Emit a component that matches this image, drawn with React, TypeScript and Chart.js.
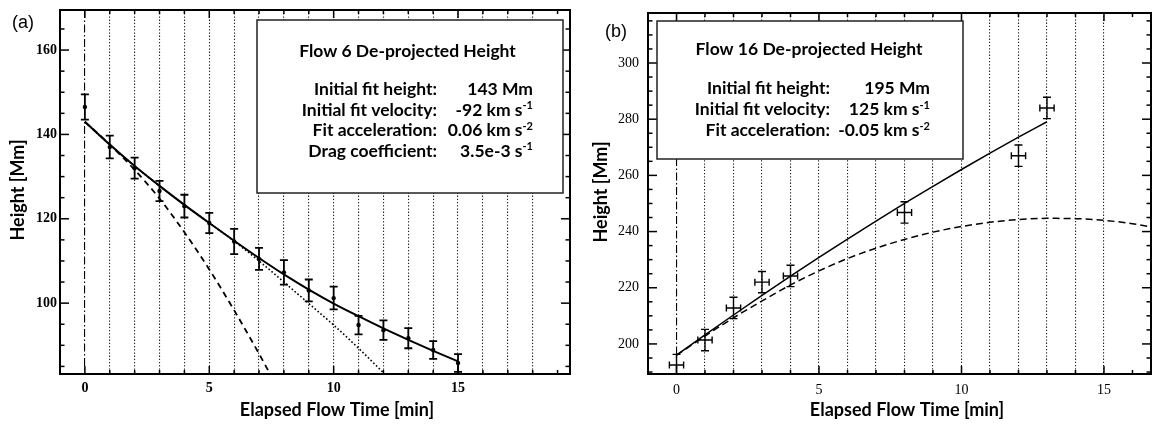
import React, { useEffect, useRef } from 'react';
import { Chart, registerables } from 'chart.js';

Chart.register(...registerables);

// ---------- Panel (a): Flow 6 ----------
const timeA = [0, 1, 2, 3, 4, 5, 6, 7, 8, 9, 10, 11, 12, 13, 14, 15];
const heightA = [146.5, 137.0, 132.0, 126.6, 123.0, 119.0, 114.6, 110.5, 107.3, 103.0, 101.2, 94.8, 93.6, 91.7, 88.9, 85.8];
const errA = [3.0, 2.7, 2.5, 2.4, 2.7, 2.4, 3.0, 2.6, 2.9, 2.6, 2.7, 2.2, 2.3, 2.4, 2.1, 2.1];

const solidTimeA = [0, 1, 2, 3, 4, 5, 6, 7, 8, 9, 10, 11, 12, 13, 14, 15];
const solidFitA = [143, 137.6, 132.5, 127.8, 123.3, 119.0, 114.8, 110.7, 106.8, 103.2, 99.9, 96.9, 94.0, 91.3, 88.7, 86.2];
const dashTimeA = [0, 1, 2, 3, 4, 5, 6, 7, 7.6];
const dashFitA = [143, 137.6, 131.6, 124.8, 116.8, 108.0, 98.3, 88.0, 81.5];
const dotTimeA = [0, 1, 2, 3, 4, 5, 6, 7, 8, 9, 10, 11, 12];
const dotFitA = [143, 137.6, 132.5, 127.8, 123.3, 119.0, 114.7, 110.0, 105.0, 99.9, 94.8, 89.3, 83.5];

const boxTitleA = 'Flow 6 De-projected Height';
const boxLabelsA = ['Initial fit height:', 'Initial fit velocity:', 'Fit acceleration:', 'Drag coefficient:'];
const boxValuesA = ['143 Mm', '-92 km s', '0.06 km s', '3.5e-3 s'];
const boxSupsA = ['', '-1', '-2', '-1'];

// ---------- Panel (b): Flow 16 ----------
const timeB = [0, 1, 2, 3, 4, 8, 12, 13];
const heightB = [192.5, 201.4, 212.8, 222.0, 224.2, 246.8, 267.0, 284.0];
const errYB = [3.8, 3.8, 3.8, 3.8, 3.8, 3.8, 3.8, 3.8];
const errXB = [0.25, 0.25, 0.25, 0.25, 0.25, 0.25, 0.25, 0.25];

const solidTimeB = [0, 1, 2, 3, 4, 5, 6, 7, 8, 9, 10, 11, 12, 13];
const solidFitB = [196, 203.2, 210.3, 217.3, 224.1, 230.8, 237.3, 243.7, 250.0, 256.1, 262.1, 267.9, 273.6, 279.1];
const dashTimeB = [0, 1, 2, 3, 4, 5, 6, 7, 8, 9, 10, 11, 12, 13, 14, 15, 16, 17];
const dashFitB = [196, 202.8, 209.3, 215.3, 221.0, 226.0, 230.4, 234.1, 237.2, 239.8, 241.8, 243.3, 244.3, 244.7, 244.6, 244.0, 242.8, 241.0];

const boxTitleB = 'Flow 16 De-projected Height';
const boxLabelsB = ['Initial fit height:', 'Initial fit velocity:', 'Fit acceleration:'];
const boxValuesB = ['195 Mm', '125 km s', '-0.05 km s'];
const boxSupsB = ['', '-1', '-2'];

const xTitle = 'Elapsed Flow Time [min]';
const yTitle = 'Height [Mm]';

const SANS = 'Lato, "Open Sans", sans-serif';
const SERIF = '"Liberation Serif", "DejaVu Serif", serif';

type LineSpec = { x: number[]; y: number[]; width: number; dash: number[] };

type PanelSpec = {
  letter: string;
  width: number;
  offsetLeft: number;
  area: { left: number; right: number; top: number; bottom: number };
  xMin: number; xMax: number; yMin: number; yMax: number;
  yTickPad: number; xTickPad: number;
  tickFont: string;
  t: number[]; h: number[]; errY: number[]; errX: number[] | null;
  pointRadius: number;
  barWidth: number;
  lines: LineSpec[];
  box: { x: number; y: number; w: number; h: number; titleX: number; titleY: number; rowY: number[]; labelX: number; valueX: number };
  boxTitle: string; labels: string[]; values: string[]; sups: string[];
  xTitlePos: [number, number]; yTitlePos: [number, number]; letterPos: [number, number];
};

const panels: PanelSpec[] = [
  {
    letter: '(a)', width: 580, offsetLeft: 0,
    area: { left: 60, right: 570, top: 10, bottom: 374 },
    xMin: -1, xMax: 19.5, yMin: 83.2, yMax: 169.5,
    yTickPad: 3, xTickPad: 6, tickFont: 'bold',
    t: timeA, h: heightA, errY: errA, errX: null, pointRadius: 2.2, barWidth: 1.8,
    lines: [
      { x: dotTimeA, y: dotFitA, width: 1.6, dash: [1.6, 2.2] },
      { x: dashTimeA, y: dashFitA, width: 1.8, dash: [6, 4.5] },
      { x: solidTimeA, y: solidFitA, width: 2, dash: [] },
    ],
    box: { x: 257, y: 20, w: 306, h: 173, titleX: 407.5, titleY: 57, rowY: [95, 115.5, 136, 156.5], labelX: 437, valueX: 533 },
    boxTitle: boxTitleA, labels: boxLabelsA, values: boxValuesA, sups: boxSupsA,
    xTitlePos: [337, 410], yTitlePos: [18, 190], letterPos: [12, 23],
  },
  {
    letter: '(b)', width: 572, offsetLeft: 580,
    area: { left: 68, right: 571, top: 13, bottom: 374 },
    xMin: -1, xMax: 16.65, yMin: 189.3, yMax: 317.8,
    yTickPad: 9, xTickPad: 8, tickFont: 'normal',
    t: timeB, h: heightB, errY: errYB, errX: errXB, pointRadius: 0, barWidth: 1.4,
    lines: [
      { x: dashTimeB, y: dashFitB, width: 1.5, dash: [7, 4] },
      { x: solidTimeB, y: solidFitB, width: 1.5, dash: [] },
    ],
    box: { x: 77, y: 21, w: 306, h: 138, titleX: 229, titleY: 55, rowY: [94, 115, 136], labelX: 250, valueX: 350 },
    boxTitle: boxTitleB, labels: boxLabelsB, values: boxValuesB, sups: boxSupsB,
    xTitlePos: [327, 410], yTitlePos: [21, 192], letterPos: [25, 32],
  },
];

function makePlugin(p: PanelSpec) {
  return {
    id: 'panelDecor' + p.letter,
    afterDatasetsDraw(chart: any) {
      const { ctx, chartArea: a, scales } = chart;
      const x = scales.x, y = scales.y;
      ctx.save();
      ctx.beginPath();
      ctx.rect(a.left, a.top, a.right - a.left, a.bottom - a.top);
      ctx.clip();
      ctx.strokeStyle = '#000';
      ctx.lineWidth = p.barWidth;
      const cap = 4;
      p.t.forEach((tv, i) => {
        const px = x.getPixelForValue(tv);
        const py = y.getPixelForValue(p.h[i]);
        const y1 = y.getPixelForValue(p.h[i] - p.errY[i]);
        const y2 = y.getPixelForValue(p.h[i] + p.errY[i]);
        ctx.beginPath();
        ctx.moveTo(px, y1); ctx.lineTo(px, y2);
        ctx.moveTo(px - cap, y1); ctx.lineTo(px + cap, y1);
        ctx.moveTo(px - cap, y2); ctx.lineTo(px + cap, y2);
        if (p.errX) {
          const x1 = x.getPixelForValue(tv - p.errX[i]);
          const x2 = x.getPixelForValue(tv + p.errX[i]);
          ctx.moveTo(x1, py); ctx.lineTo(x2, py);
          ctx.moveTo(x1, py - 3.5); ctx.lineTo(x1, py + 3.5);
          ctx.moveTo(x2, py - 3.5); ctx.lineTo(x2, py + 3.5);
        }
        ctx.stroke();
      });
      ctx.restore();
    },
    afterDraw(chart: any) {
      const { ctx, chartArea: a, scales } = chart;
      const x = scales.x, y = scales.y;
      ctx.save();
      ctx.strokeStyle = '#000';
      ctx.lineWidth = 1.5;
      const seg = (x1: number, y1: number, x2: number, y2: number) => {
        ctx.beginPath(); ctx.moveTo(x1, y1); ctx.lineTo(x2, y2); ctx.stroke();
      };
      for (let v = Math.ceil(y.min / 5) * 5; v <= y.max; v += 5) {
        const py = y.getPixelForValue(v);
        const len = v % 20 === 0 ? 9 : 4.5;
        seg(a.left, py, a.left + len, py);
        seg(a.right, py, a.right - len, py);
      }
      for (let v = Math.ceil(x.min); v <= x.max; v += 1) {
        const px = x.getPixelForValue(v);
        const len = v % 5 === 0 ? 8 : 4;
        seg(px, a.top, px, a.top + len);
        seg(px, a.bottom, px, a.bottom - len);
      }
      ctx.lineWidth = 2;
      ctx.strokeRect(a.left, a.top, a.right - a.left, a.bottom - a.top);

      // info box
      const b = p.box;
      ctx.fillStyle = '#fff';
      ctx.fillRect(b.x, b.y, b.w, b.h);
      ctx.lineWidth = 1.5;
      ctx.strokeStyle = '#222';
      ctx.strokeRect(b.x, b.y, b.w, b.h);
      ctx.fillStyle = '#000';
      ctx.textBaseline = 'alphabetic';
      const bodyFont = `bold 17.5px ${SANS}`;
      ctx.font = bodyFont;
      ctx.textAlign = 'center';
      ctx.fillText(p.boxTitle, b.titleX, b.titleY);
      p.labels.forEach((lab, i) => {
        const ry = b.rowY[i];
        ctx.font = bodyFont;
        ctx.textAlign = 'right';
        ctx.fillText(lab, b.labelX, ry);
        let supW = 0;
        if (p.sups[i]) {
          ctx.font = `bold 11px ${SANS}`;
          supW = ctx.measureText(p.sups[i]).width;
          ctx.textAlign = 'left';
          ctx.fillText(p.sups[i], b.valueX - supW, ry - 6.5);
        }
        ctx.font = bodyFont;
        ctx.textAlign = 'right';
        ctx.fillText(p.values[i], b.valueX - supW, ry);
      });

      // axis titles
      ctx.font = `bold 18px ${SANS}`;
      ctx.textAlign = 'center';
      ctx.textBaseline = 'middle';
      ctx.fillText(xTitle, p.xTitlePos[0], p.xTitlePos[1]);
      ctx.save();
      ctx.translate(p.yTitlePos[0], p.yTitlePos[1]);
      ctx.rotate(-Math.PI / 2);
      ctx.fillText(yTitle, 0, 0);
      ctx.restore();

      // panel letter
      ctx.font = '18px "Liberation Sans", Arial, sans-serif';
      ctx.textAlign = 'left';
      ctx.textBaseline = 'middle';
      ctx.fillText(p.letter, p.letterPos[0], p.letterPos[1]);
      ctx.restore();
    },
  };
}

function Panel({ p }: { p: PanelSpec }) {
  const ref = useRef<HTMLCanvasElement | null>(null);
  useEffect(() => {
    if (!ref.current) return;
    const zip = (xs: number[], ys: number[]) => xs.map((v, i) => ({ x: v, y: ys[i] }));
    const datasets: any[] = p.lines.map((l) => ({
      type: 'line',
      data: zip(l.x, l.y),
      borderColor: '#000',
      borderWidth: l.width,
      borderDash: l.dash,
      pointRadius: 0,
      fill: false,
      cubicInterpolationMode: 'monotone',
    }));
    datasets.push({
      type: 'scatter',
      data: zip(p.t, p.h),
      pointRadius: p.pointRadius,
      backgroundColor: '#000',
      borderColor: '#000',
      borderWidth: 0,
    });
    const chart = new Chart(ref.current, {
      type: 'line',
      data: { datasets },
      plugins: [makePlugin(p)],
      options: {
        animation: false,
        responsive: false,
        maintainAspectRatio: false,
        layout: { padding: { top: p.area.top, right: p.width - p.area.right, left: 0, bottom: 0 } },
        plugins: { legend: { display: false }, tooltip: { enabled: false } },
        scales: {
          x: {
            type: 'linear',
            min: p.xMin,
            max: p.xMax,
            afterFit: (s: any) => {
              s.height = 424 - p.area.bottom;
              s.paddingLeft = 0;
              s.paddingRight = 0;
            },
            ticks: {
              stepSize: 1,
              autoSkip: false,
              maxTicksLimit: 100,
              maxRotation: 0,
              padding: p.xTickPad,
              color: '#000',
              font: { family: SERIF, size: 14, weight: p.tickFont as any },
              callback: (v: any) => (v >= 0 && v % 5 === 0 ? String(v) : ''),
            },
            grid: {
              drawTicks: false,
              lineWidth: 1.1,
              color: (c: any) => {
                const v = c.tick ? c.tick.value : NaN;
                if (v === 0) return '#000';
                if (Number.isInteger(v) && v > 0) return '#222';
                return 'rgba(0,0,0,0)';
              },
            },
            border: {
              display: false,
              dash: (c: any) => (c.tick && c.tick.value === 0 ? [8, 2.5, 1.5, 2.5] : [1.3, 1.9]),
            },
          },
          y: {
            type: 'linear',
            min: p.yMin,
            max: p.yMax,
            afterFit: (s: any) => {
              s.width = p.area.left;
              s.paddingTop = 0;
              s.paddingBottom = 0;
            },
            ticks: {
              stepSize: 5,
              autoSkip: false,
              maxTicksLimit: 100,
              padding: p.yTickPad,
              color: '#000',
              font: { family: SERIF, size: 14, weight: p.tickFont as any },
              callback: (v: any) => (v % 20 === 0 ? String(v) : ''),
            },
            grid: { display: false, drawTicks: false },
            border: { display: false },
          },
        },
      } as any,
    });
    return () => chart.destroy();
  }, [p]);
  return (
    <canvas
      ref={ref}
      width={p.width}
      height={424}
      style={{ position: 'absolute', left: p.offsetLeft, top: 0, width: p.width, height: 424 }}
    />
  );
}

export default function App() {
  return (
    <div style={{ position: 'absolute', left: 0, top: 0, width: 1152, height: 424, background: '#fff', overflow: 'hidden' }}>
      {panels.map((p) => (
        <Panel key={p.letter} p={p} />
      ))}
    </div>
  );
}
